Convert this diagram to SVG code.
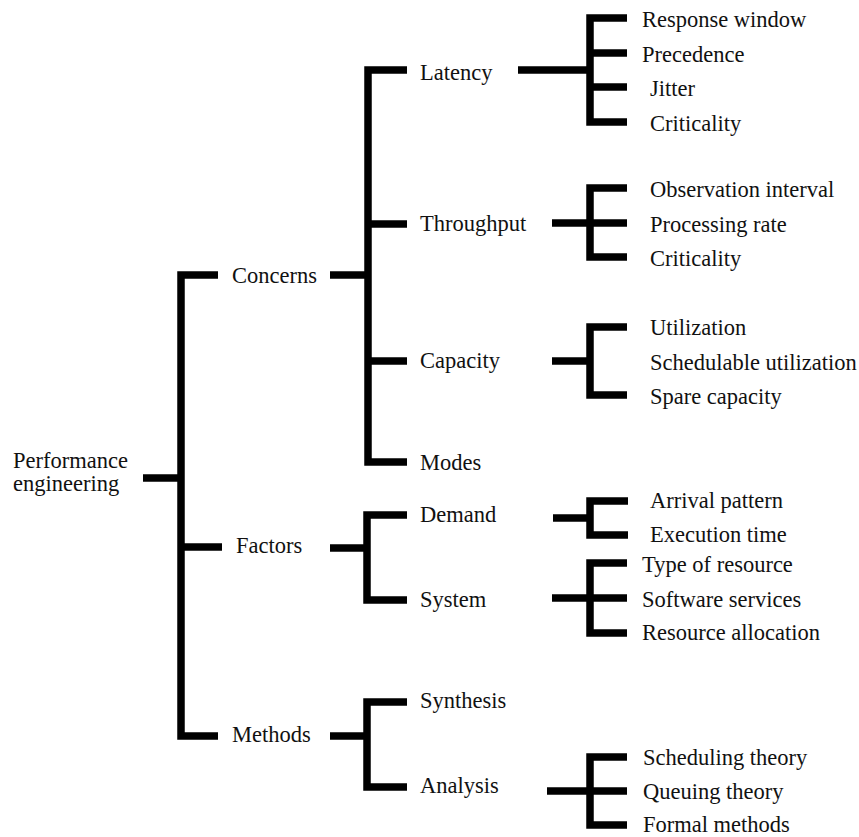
<svg xmlns="http://www.w3.org/2000/svg" width="859" height="837" viewBox="0 0 859 837">
  <style>
    .edge { fill: none; stroke: #000; stroke-width: 7.5; stroke-linecap: butt; stroke-linejoin: miter; }
    .lbl { font-family: 'Liberation Serif', 'DejaVu Serif', 'Times New Roman', Times, serif; font-size: 22.5px; fill: #111; }
  </style>
  <rect width="859" height="837" fill="#fff"/>

  <!-- bracket connectors -->
  <g id="connectors">
    <!-- root -->
    <path class="edge" d="M143,478 H181"/>
    <path class="edge" d="M218,275 H181 V736 H218"/>
    <path class="edge" d="M181,547 H222"/>
    <!-- Concerns -->
    <path class="edge" d="M330,275 H368"/>
    <path class="edge" d="M407,70 H368 V462 H407"/>
    <path class="edge" d="M368,224 H407"/>
    <path class="edge" d="M368,361 H407"/>
    <!-- Latency -->
    <path class="edge" d="M518,70 H590"/>
    <path class="edge" d="M627,18 H590 V122 H627"/>
    <path class="edge" d="M590,53 H627"/>
    <path class="edge" d="M590,87 H627"/>
    <!-- Throughput -->
    <path class="edge" d="M552,223 H590"/>
    <path class="edge" d="M627,188 H590 V257 H627"/>
    <path class="edge" d="M590,223 H627"/>
    <!-- Capacity -->
    <path class="edge" d="M552,361 H590"/>
    <path class="edge" d="M627,327 H590 V395 H627"/>
    <!-- Factors -->
    <path class="edge" d="M330,548 H367"/>
    <path class="edge" d="M407,515 H367 V600 H407"/>
    <!-- Demand -->
    <path class="edge" d="M553,518 H590"/>
    <path class="edge" d="M628,501 H590 V535 H628"/>
    <!-- System -->
    <path class="edge" d="M552,598 H590"/>
    <path class="edge" d="M627,563 H590 V633 H627"/>
    <path class="edge" d="M590,598 H627"/>
    <!-- Methods -->
    <path class="edge" d="M330,736 H367"/>
    <path class="edge" d="M407,702 H367 V787 H407"/>
    <!-- Analysis -->
    <path class="edge" d="M547,791 H590"/>
    <path class="edge" d="M627,757 H590 V825 H627"/>
    <path class="edge" d="M590,791 H627"/>
  </g>

  <g class="lbl">
    <g id="n-root"><text x="13" y="468">Performance</text><text x="13" y="491">engineering</text></g>

    <g id="n-concerns"><text x="232" y="283">Concerns</text></g>
    <g id="n-factors"><text x="236" y="553">Factors</text></g>
    <g id="n-methods"><text x="232" y="742">Methods</text></g>

    <g id="n-latency"><text x="420" y="80">Latency</text></g>
    <g id="n-throughput"><text x="420" y="231">Throughput</text></g>
    <g id="n-capacity"><text x="420" y="368">Capacity</text></g>
    <g id="n-modes"><text x="420" y="470">Modes</text></g>

    <g id="n-response-window"><text x="642" y="27">Response window</text></g>
    <g id="n-precedence"><text x="642" y="62">Precedence</text></g>
    <g id="n-jitter"><text x="650" y="96">Jitter</text></g>
    <g id="n-criticality-1"><text x="650" y="131">Criticality</text></g>

    <g id="n-observation-interval"><text x="650" y="197">Observation interval</text></g>
    <g id="n-processing-rate"><text x="650" y="232">Processing rate</text></g>
    <g id="n-criticality-2"><text x="650" y="266">Criticality</text></g>

    <g id="n-utilization"><text x="650" y="335">Utilization</text></g>
    <g id="n-schedulable-utilization"><text x="650" y="370">Schedulable utilization</text></g>
    <g id="n-spare-capacity"><text x="650" y="404">Spare capacity</text></g>

    <g id="n-demand"><text x="420" y="522">Demand</text></g>
    <g id="n-system"><text x="420" y="607">System</text></g>

    <g id="n-arrival-pattern"><text x="650" y="508">Arrival pattern</text></g>
    <g id="n-execution-time"><text x="650" y="542">Execution time</text></g>

    <g id="n-type-of-resource"><text x="642" y="572">Type of resource</text></g>
    <g id="n-software-services"><text x="642" y="607">Software services</text></g>
    <g id="n-resource-allocation"><text x="642" y="640">Resource allocation</text></g>

    <g id="n-synthesis"><text x="420" y="708">Synthesis</text></g>
    <g id="n-analysis"><text x="420" y="793">Analysis</text></g>

    <g id="n-scheduling-theory"><text x="643" y="765">Scheduling theory</text></g>
    <g id="n-queuing-theory"><text x="643" y="799">Queuing theory</text></g>
    <g id="n-formal-methods"><text x="643" y="832">Formal methods</text></g>
  </g>
</svg>
